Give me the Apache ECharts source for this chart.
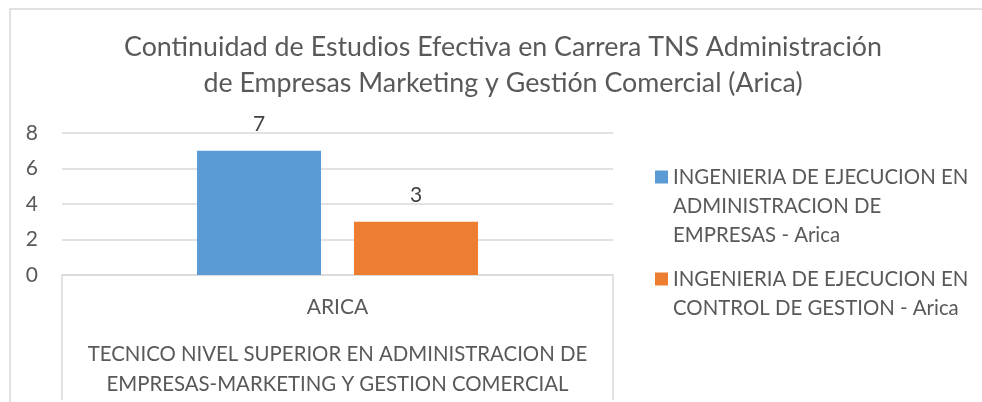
<!DOCTYPE html>
<html>
<head>
<meta charset="utf-8">
<script src="https://cdn.jsdelivr.net/npm/echarts@6/dist/echarts.min.js"></script>
<style>
  html, body { margin: 0; padding: 0; background: #fff; }
  #main { width: 982px; height: 402px; }
</style>
</head>
<body>
<div id="main"></div>
<script>
// data
const categories = ['ARICA']
const groupLabels = ['TECNICO NIVEL SUPERIOR EN ADMINISTRACION DE\nEMPRESAS-MARKETING Y GESTION COMERCIAL']
const seriesNames = [
  'INGENIERIA DE EJECUCION EN ADMINISTRACION DE EMPRESAS - Arica',
  'INGENIERIA DE EJECUCION EN CONTROL DE GESTION - Arica'
]
const legendLines = [
  'INGENIERIA DE EJECUCION EN\nADMINISTRACION DE\nEMPRESAS - Arica',
  'INGENIERIA DE EJECUCION EN\nCONTROL DE GESTION - Arica'
]
const adminValues = [7]
const controlValues = [3]
const yMin = 0, yMax = 8, yStep = 2

const FONT = 'Lato'
const TXT = '#595959'
const GRID = '#d9d9d9'
const LH = 29

// square icon sitting on the first text line of a multi-line legend item
function topIcon(lines) {
  const h = lines * LH
  return 'path://M0,0L0.01,0L0.01,0.01Z M0,8H13V21H0Z M0,' + h + 'L0.01,' + h + 'L0.01,' + (h - 0.01) + 'Z'
}
function legendFor(i, top) {
  const n = legendLines[i].split('\n').length
  return {
    left: 655, top: top, orient: 'vertical', padding: 0,
    data: [seriesNames[i]],
    icon: topIcon(n), itemWidth: 13, itemHeight: n * LH,
    formatter: name => legendLines[seriesNames.indexOf(name)],
    textStyle: { fontFamily: FONT, fontSize: 20.4, color: TXT, lineHeight: LH }
  }
}

const myChart = echarts.init(document.getElementById('main'))
const option = {
  animation: false,
  backgroundColor: '#fff',
  title: {
    text: 'Continuidad de Estudios Efectiva en Carrera TNS Administración\nde Empresas Marketing y Gestión Comercial (Arica)',
    left: 503, top: 29, textAlign: 'center', padding: 0,
    textStyle: { fontFamily: FONT, fontWeight: 'normal', fontSize: 26.8, color: TXT, lineHeight: 36 }
  },
  legend: [legendFor(0, 162.5), legendFor(1, 264.5)],
  grid: { left: 62, right: 369, top: 133, bottom: 127 },
  xAxis: [
    {
      type: 'category', data: categories, position: 'bottom',
      axisLine: { lineStyle: { color: GRID, width: 1.5 } },
      axisTick: { show: true, length: 125, lineStyle: { color: GRID, width: 1.5 } },
      axisLabel: { margin: 22, fontFamily: FONT, fontSize: 21, color: TXT }
    },
    {
      type: 'category', data: groupLabels, position: 'bottom',
      axisLine: { show: false }, axisTick: { show: false },
      axisLabel: { margin: 64, fontFamily: FONT, fontSize: 20.4, color: TXT, lineHeight: 30 }
    }
  ],
  yAxis: {
    type: 'value', min: yMin, max: yMax, interval: yStep,
    axisLine: { show: false }, axisTick: { show: false },
    splitLine: { lineStyle: { color: GRID, width: 1.5 } },
    axisLabel: { margin: 24, fontFamily: FONT, fontSize: 21, color: TXT }
  },
  series: [
    {
      name: seriesNames[0], type: 'bar', data: adminValues,
      barWidth: 124, barGap: '26.6%',
      itemStyle: { color: '#5b9bd5' },
      label: { show: true, position: 'top', distance: 16, fontFamily: FONT, fontSize: 21, color: '#404040' }
    },
    {
      name: seriesNames[1], type: 'bar', data: controlValues,
      barWidth: 124, barGap: '26.6%',
      itemStyle: { color: '#ed7d31' },
      label: { show: true, position: 'top', distance: 16, fontFamily: FONT, fontSize: 21, color: '#404040' }
    }
  ],
  graphic: [
    { type: 'rect', shape: { x: 10, y: 9, width: 990, height: 420 }, style: { fill: null, stroke: GRID, lineWidth: 1.5 }, silent: true }
  ]
}
myChart.setOption(option)
</script>
</body>
</html>
